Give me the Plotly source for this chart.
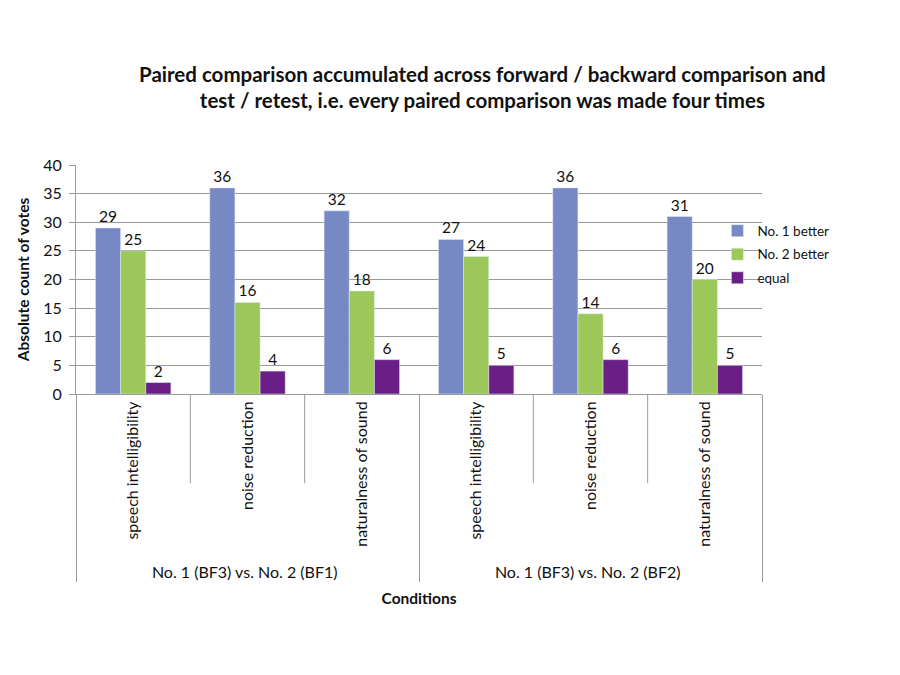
import plotly.graph_objects as go

groups = ["No. 1 (BF3) vs. No. 2 (BF1)"] * 3 + ["No. 1 (BF3) vs. No. 2 (BF2)"] * 3
conditions = ["speech intelligibility", "noise reduction", "naturalness of sound"] * 2
series_names = ["No. 1 better", "No. 2 better", "equal"]
no1_better = [29, 36, 32, 27, 36, 31]
no2_better = [25, 16, 18, 24, 14, 20]
equal = [2, 4, 6, 5, 6, 5]
colors = ["#7689C5", "#9BC858", "#6A1F86"]

FONT = "Lato"
GRID = "#9a9a9a"
fig = go.Figure()
for name, vals, col in zip(series_names, [no1_better, no2_better, equal], colors):
    fig.add_trace(go.Bar(
        x=[groups, conditions], y=vals, name=name, marker_color=col,
        text=vals, textposition="outside", cliponaxis=False, legendgroup=name,
        textfont=dict(size=15.5, color="#111", family=FONT),
    ))

fig.update_layout(
    width=900, height=675,
    paper_bgcolor="white", plot_bgcolor="white",
    font=dict(family=FONT, color="#111"),
    barmode="group", bargap=0.34, bargroupgap=0,
    margin=dict(l=76, r=138, t=165, b=281),
    title=dict(
        text="<b>Paired comparison accumulated across forward / backward comparison and<br>test / retest, i.e. every paired comparison was made four times</b>",
        x=0.536, xanchor="center", y=0.879, yanchor="middle",
        font=dict(size=20.5, family=FONT, color="#111"),
    ),
    legend=dict(x=0.935, xanchor="left", y=0.78, yanchor="top", xref="paper",
                font=dict(size=13.5, family=FONT), itemwidth=30,
                traceorder="grouped", tracegroupgap=3,
                bgcolor="rgba(0,0,0,0)"),
    showlegend=True,
)
# inner dividers between conditions (category index boundaries)
for b in [0.5, 1.5, 3.5, 4.5]:
    fig.add_shape(type="line", xref="x", yref="paper", x0=b, x1=b, y0=0, y1=-0.389,
                  line=dict(color=GRID, width=1))
fig.update_yaxes(
    range=[0, 40], dtick=5, showgrid=True, gridcolor=GRID, gridwidth=1,
    showline=True, linecolor=GRID, ticks="outside", ticklen=6, tickcolor=GRID,
    ticklabelstandoff=4,
    tickfont=dict(size=16, family=FONT), zeroline=False,
    title=dict(text="<b>Absolute count of votes</b>", font=dict(size=15.5, family=FONT), standoff=9),
)
fig.update_xaxes(
    showline=True, linecolor=GRID, tickangle=-90,
    tickfont=dict(size=16, family=FONT), showdividers=True, dividercolor=GRID,
    dividerwidth=1,
    title=dict(text="<b>Conditions</b>", font=dict(size=15.5, family=FONT), standoff=12),
)
fig.write_html("out.html")
